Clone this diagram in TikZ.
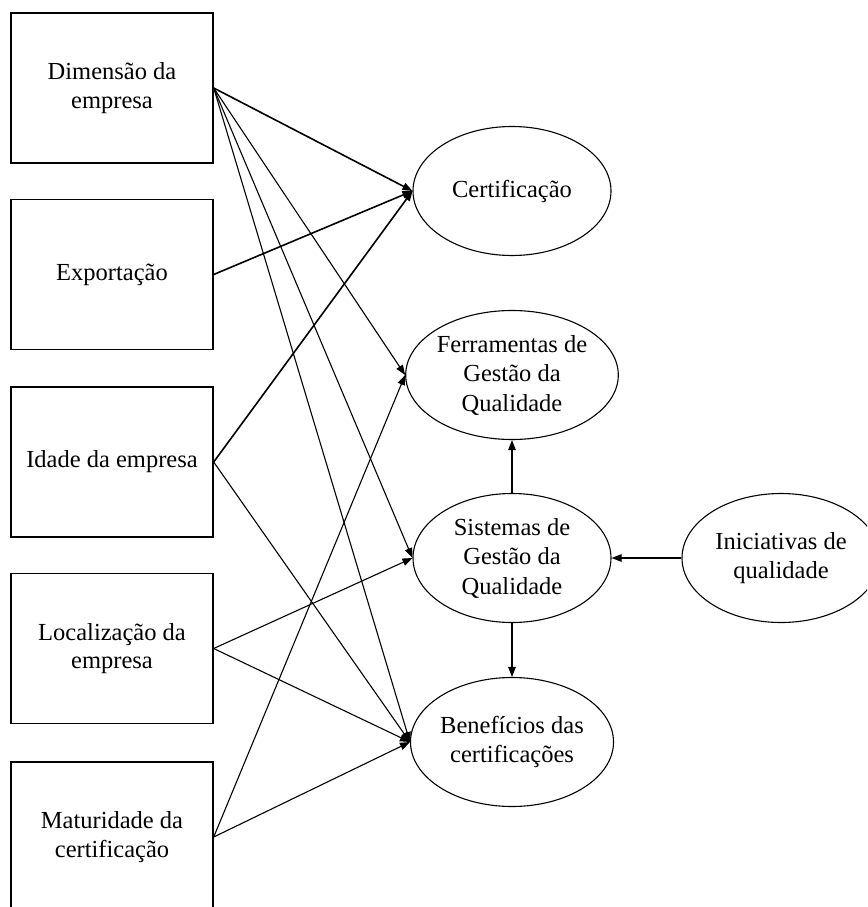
\documentclass[tikz,border=0pt]{standalone}
\usepackage{fontspec}
\setmainfont{Liberation Serif}
\usetikzlibrary{shapes.geometric,arrows.meta}
\begin{document}
\begin{tikzpicture}[x=1pt,y=-1pt,
  box/.style={draw,line width=1.4pt,minimum width=202pt,minimum height=150pt,inner sep=0pt,align=center,font=\fontsize{24.5}{28.5}\selectfont},
  oval/.style={draw,ellipse,line width=1.1pt,minimum width=198pt,minimum height=129pt,inner sep=0pt,align=center,font=\fontsize{24.5}{29.5}\selectfont},
  conn/.style={line width=1.1pt,-{Triangle[length=10pt,width=7.5pt]}},
  thick conn/.style={conn,line width=1.6pt}]
\useasboundingbox (0,0) rectangle (867,907);
\clip (0,0) rectangle (867,907);
\node[box] (dim) at (112,88) {Dimensão da\\empresa};
\node[box] (exp) at (112,274.5) {Exportação};
\node[box] (ida) at (112,462) {Idade da empresa};
\node[box] (loc) at (112,648.5) {Localização da\\empresa};
\node[box] (mat) at (112,837) {Maturidade da\\certificação};
\node[oval] (cer) at (512,191) {Certificação};
\node[oval] (fer) at (512,375) {Ferramentas de\\Gestão da\\Qualidade};
\node[oval] (sis) at (512,558) {Sistemas de\\Gestão da\\Qualidade};
\node[oval] (ben) at (512,742) {Benefícios das\\certificações};
\node[oval] (ini) at (781,558) {Iniciativas de\\qualidade};
\draw[thick conn] (dim.east) -- (cer.west);
\draw[conn] (dim.east) -- (fer.west);
\draw[conn] (dim.east) -- (sis.west);
\draw[conn] (dim.east) -- (ben.west);
\draw[thick conn] (exp.east) -- (cer.west);
\draw[thick conn] (ida.east) -- (cer.west);
\draw[conn] (ida.east) -- (ben.west);
\draw[conn] (loc.east) -- (sis.west);
\draw[conn] (loc.east) -- (ben.west);
\draw[conn] (mat.east) -- (fer.west);
\draw[conn] (mat.east) -- (ben.west);
\draw[conn] (sis.north) -- (fer.south);
\draw[conn] (sis.south) -- (ben.north);
\draw[conn] (ini.west) -- (sis.east);
\end{tikzpicture}
\end{document}
